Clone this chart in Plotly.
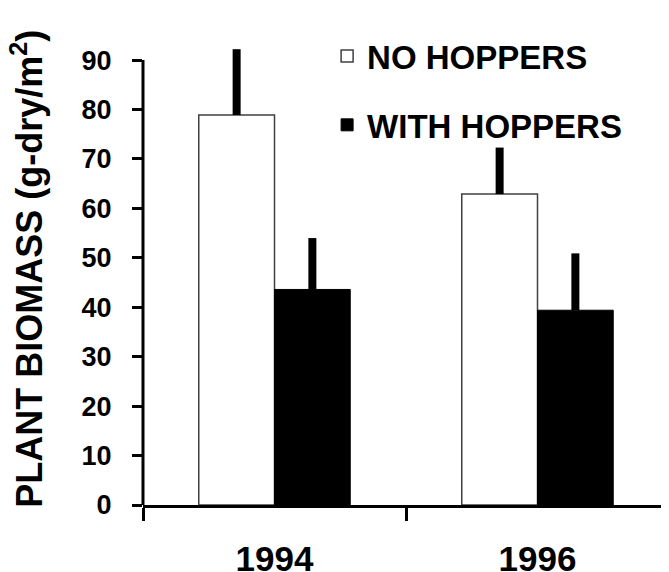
import plotly.graph_objects as go

years = ["1994", "1996"]
no_hoppers = [78.9, 62.9]
no_hoppers_err = [13.3, 9.4]
with_hoppers = [43.6, 39.4]
with_hoppers_err = [10.4, 11.5]
y_ticks = [0, 10, 20, 30, 40, 50, 60, 70, 80, 90]

FONT = "Liberation Sans, Arial, Helvetica, sans-serif"

fig = go.Figure()
fig.add_trace(go.Bar(
    x=years, y=no_hoppers, name="NO HOPPERS", legendgroup="a", cliponaxis=False,
    marker=dict(color="white", line=dict(color="#404040", width=1.5)),
    error_y=dict(type="data", symmetric=False, array=no_hoppers_err,
                 arrayminus=[0, 0], thickness=8, width=0, color="black"),
))
fig.add_trace(go.Bar(
    x=years, y=with_hoppers, name="WITH HOPPERS", legendgroup="b", cliponaxis=False,
    marker=dict(color="black", line=dict(color="black", width=1)),
    error_y=dict(type="data", symmetric=False, array=with_hoppers_err,
                 arrayminus=[0, 0], thickness=8, width=0, color="black"),
))

fig.update_layout(
    width=661, height=564,
    margin=dict(l=135, r=0, t=37, b=67, autoexpand=False),
    paper_bgcolor="white", plot_bgcolor="white",
    barmode="group", bargap=0.424, bargroupgap=0,
    font=dict(family=FONT, color="black", weight=700),
    showlegend=True,
    legend=dict(x=0.35, xanchor="left", y=1.037, yanchor="top",
                font=dict(size=33, family=FONT, weight=700),
                tracegroupgap=23, bgcolor="rgba(0,0,0,0)", traceorder="grouped"),
    xaxis=dict(
        type="category", range=[-0.5, 1.5], showgrid=False, automargin=False,
        showline=True, linecolor="black", linewidth=3,
        ticks="outside", tickson="boundaries", ticklen=13, tickwidth=3, tickcolor="black",
        tickfont=dict(size=35, family=FONT, weight=700), ticklabelstandoff=21,
    ),
    yaxis=dict(
        range=[0, 93.05], tickvals=y_ticks, showgrid=False, zeroline=False, automargin=False,
        showline=False,
        ticks="outside", ticklen=10, tickwidth=3, tickcolor="black",
        tickfont=dict(size=27, family=FONT, weight=700), ticklabelstandoff=15,
    ),
    shapes=[dict(
        type="line", xref="paper", yref="y", x0=0, x1=0, y0=0, y1=y_ticks[-1],
        line=dict(color="black", width=3), layer="above",
    )],
    annotations=[dict(
        text="PLANT BIOMASS (g-dry/m<sup>2</sup>)", textangle=-90,
        xref="paper", yref="paper", x=-0.222, y=0.514,
        xanchor="center", yanchor="middle", showarrow=False,
        font=dict(size=36, family=FONT, weight=700),
    )],
)

fig.write_html("out.html")
